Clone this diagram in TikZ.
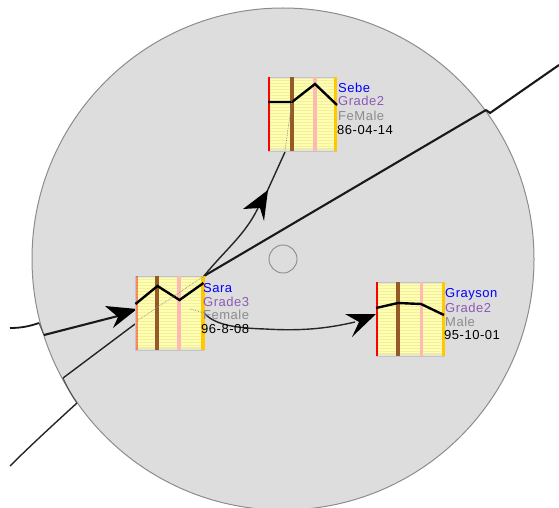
\documentclass[tikz,border=0pt]{standalone}
\usepackage{fontspec}
\setmainfont[LetterSpace=4]{Liberation Sans}
\definecolor{disc}{RGB}{221,221,221}
\definecolor{rimc}{RGB}{140,140,140}
\definecolor{paper}{RGB}{255,255,175}
\definecolor{stripe}{RGB}{240,240,160}
\definecolor{pinkb}{RGB}{255,185,180}
\definecolor{brownb}{RGB}{150,90,40}
\definecolor{goldb}{RGB}{255,200,0}
\definecolor{frameb}{RGB}{195,195,205}
\definecolor{gradec}{RGB}{140,90,180}
\definecolor{sexc}{RGB}{140,140,140}
\tikzset{
  x=1pt,y=-1pt,
  link/.style={draw=black!85,line width=1.4pt},
  heavylink/.style={draw=black!90,line width=2.1pt},
  spike/.style={fill=black,draw=none},
  plotline/.style={draw=black,line width=2.4pt,line join=miter},
  ghost/.style={black!45,densely dotted,line width=.7pt},
  cardbox/.style={rectangle,draw=none,minimum width=68pt,minimum height=74pt,inner sep=0pt,outer sep=0pt},
  info/.style={font=\fontsize{13}{14}\selectfont,anchor=base west,inner sep=0pt},
}
% #1 left, #2 top, #3 red opacity, #4 brown centre, #5 pink centre, #6 plot
\newcommand{\chartcard}[6]{%
  \begin{scope}[shift={(#1,#2)}]
    \fill[paper] (0,0) rectangle (68,74);
    \foreach \yy in {3,6,...,72}{\draw[stripe,line width=.5pt] (0,\yy)--(68,\yy);}
    \fill[frameb!35!paper] (0,0) rectangle (68,2);
    \fill[frameb!35!paper] (0,71) rectangle (68,74);
    \draw[frameb,line width=.6pt] (0,0) rectangle (68,74);
    \fill[red,opacity=#3] (0,0) rectangle (2.2,74);
    \fill[brownb] ({#4-1.8},0) rectangle ({#4+1.8},74);
    \fill[pinkb] ({#5-1.7},0) rectangle ({#5+1.7},74);
    \fill[goldb] (65.5,0) rectangle (69,74);
    \draw[plotline] #6;
  \end{scope}}
\begin{document}
\begin{tikzpicture}
\useasboundingbox (0,0) rectangle (559,508);
\clip (0,0) rectangle (559,508);
\node[circle,draw=rimc,fill=disc,line width=1pt,minimum size=502pt,inner sep=0pt] (disc) at (283,259) {};
\node[circle,draw=rimc,fill=none,line width=.9pt,minimum size=28pt,inner sep=0pt] (hub) at (283,259) {};

\node[cardbox] (sara) at (170,313) {};
\node[cardbox] (sebe) at (302,114) {};
\node[cardbox] (grayson) at (410,319) {};

\coordinate (outA) at (10,328);
\coordinate (rimA1) at (39,323);
\coordinate (rimA2) at (44,335);
\coordinate (outB) at (10,466);
\coordinate (rimB1) at (77,403);
\coordinate (rimB2) at (63,378);
\coordinate (outC) at (559,65);
\coordinate (rimC1) at (490,113);
\coordinate (rimC2) at (486,110);
\coordinate (saraTip) at (137,309);
\coordinate (sebeTip) at (268,190);
\coordinate (graysonTip) at (376,314);

% links
\draw[heavylink,line width=1.8pt] (outA) .. controls (22,328) and (30,326) .. (rimA1);
\draw[rimc!60!black,line width=1.1pt] (rimA1) -- (rimA2);
\draw[heavylink] (rimA2) -- (118,316);
\draw[link] (outB) .. controls (28,448) and (55,423) .. (rimB1);
\draw[rimc!60!black,line width=1.1pt] (rimB1) .. controls (72,396) and (67,387) .. (rimB2);
\draw[link] (rimB2) -- (135,324);
\draw[heavylink] (outC) -- (rimC1) -- (rimC2);
\draw[heavylink] (rimC2) -- (sara.north east);
\draw[link] (sara.north east) .. controls (225,250) and (245,235) .. (258,208);
\draw[link] (265,196) -- (285,152);
\draw[link] (sara.east) .. controls (215,325) and (235,328) .. (265,329) .. controls (300,331) and (325,329) .. (355,322);

% arrowheads
\path[spike] (saraTip) -- (105,306) -- (118,317) -- (113,328) -- cycle;
\path[spike] (sebeTip) -- (243,209) -- (260,208) -- (264,221) -- cycle;
\path[spike] (graysonTip) -- (345,314) -- (359,322) -- (352,337) -- cycle;

\chartcard{135.5}{276}{0.45}{21.5}{43.5}{(0,28)--(22,10)--(44,24)--(68,7)}
\chartcard{268}{77}{1}{23.7}{47}{(0,25)--(24,25)--(47,7)--(69,28)}
\chartcard{376}{282}{1}{21.7}{45.7}{(0,26)--(22,21)--(45,22)--(68,33)}

% links seen faintly through the cards
\draw[ghost] (137,321) -- (sara.north east);
\draw[ghost] (sara.east) ++(-14,-4) -- (sara.east);
\draw[ghost] (285,151) -- (292,100);

\node[info,text=blue] (n1) at (203,292) {Sara};
\node[info,text=gradec] (g1) at (203,306) {Grade3};
\node[info,text=sexc] (s1) at (203,319) {Female};
\node[info,text=black] (d1) at (201,333) {96-8-08};
\node[info,text=blue] (n2) at (338,93) {Sebe};
\node[info,text=gradec] (g2) at (338,106) {Grade2};
\node[info,text=sexc] (s2) at (338,121) {FeMale};
\node[info,text=black] (d2) at (337,134) {86-04-14};
\node[info,text=blue] (n3) at (445,297) {Grayson};
\node[info,text=gradec] (g3) at (445,312) {Grade2};
\node[info,text=sexc] (s3) at (445,326) {Male};
\node[info,text=black] (d3) at (444,339) {95-10-01};
\end{tikzpicture}
\end{document}
